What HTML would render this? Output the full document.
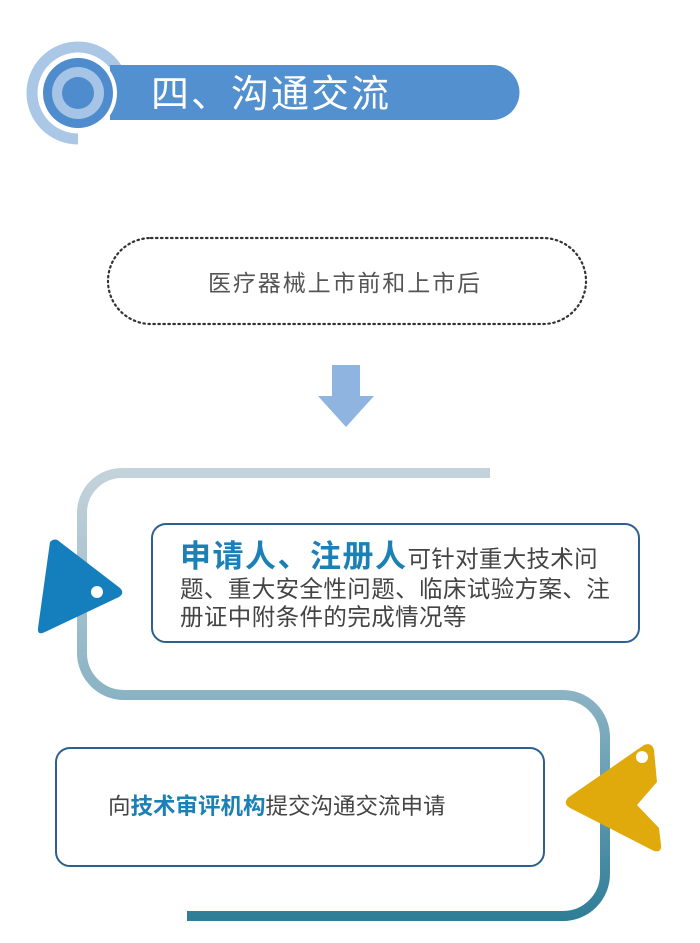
<!DOCTYPE html>
<html><head><meta charset="utf-8"><style>
html,body{margin:0;padding:0;background:#fff;}
body{width:700px;height:943px;overflow:hidden;position:relative;}
svg{position:absolute;left:0;top:0;}
text{font-family:"Liberation Sans","Noto Sans CJK SC",sans-serif;}
</style></head><body>
<svg width="700" height="943" viewBox="0 0 700 943">
<defs>
<linearGradient id="g" x1="0" y1="470" x2="0" y2="920" gradientUnits="userSpaceOnUse">
<stop offset="0" stop-color="#c4d3db"/>
<stop offset="0.5" stop-color="#8ab3c4"/>
<stop offset="1" stop-color="#2f7d97"/>
</linearGradient>
</defs>
<!-- header -->
<path d="M78 139 A46 46 0 1 1 124 93" fill="none" stroke="#aac7e6" stroke-width="11"/>
<path d="M110 65 H492 A27.5 27.5 0 0 1 492 120 H110 Z" fill="#5290d0"/>
<circle cx="78" cy="93" r="39" fill="#fff"/>
<circle cx="78" cy="93" r="35" fill="#4f8ccd"/>
<circle cx="78" cy="93" r="26" fill="#a6c4e6"/>
<circle cx="78" cy="93" r="16" fill="#4f8ccd"/>
<text x="151" y="107" font-size="38" fill="#fff" letter-spacing="2">四、沟通交流</text>
<!-- dotted box -->
<rect x="108" y="238" width="478" height="86" rx="43" fill="none" stroke="#333" stroke-width="2.2" stroke-dasharray="1.5 3.5" stroke-linecap="round"/>
<text x="208" y="291" font-size="23" fill="#555" letter-spacing="1.9">医疗器械上市前和上市后</text>
<!-- arrow -->
<path d="M332 365 H360 V396 H374 L346 427 L318 396 H332 Z" fill="#8fb4e0"/>
<!-- path -->
<path d="M490 473 H122 A40 40 0 0 0 82 513 V653 A42 42 0 0 0 124 695 H563 A42 42 0 0 1 605 737 V874 A42 42 0 0 1 563 916 H187" fill="none" stroke="url(#g)" stroke-width="10"/>
<!-- box 1 -->
<rect x="152" y="524" width="487" height="118" rx="14" fill="#fff" stroke="#2d5f90" stroke-width="2"/>
<text x="180" y="567" font-size="23.5" fill="#444" letter-spacing="0.3"><tspan font-size="31" font-weight="bold" fill="#1b80b6" letter-spacing="1.5">申请人、注册人</tspan>可针对重大技术问</text>
<text x="180" y="597" font-size="23.5" fill="#444" letter-spacing="0.4">题、重大安全性问题、临床试验方案、注</text>
<text x="180" y="625" font-size="23.5" fill="#444" letter-spacing="0.4">册证中附条件的完成情况等</text>
<!-- blue triangle -->
<path d="M50 542 Q55 537 60 542 L120 588 Q125 593 119 597 L45 632 Q37 636 38 628 Z" fill="#157fbd"/>
<circle cx="97" cy="592" r="6" fill="#fff"/>
<!-- box 2 -->
<rect x="56" y="748" width="488" height="118" rx="14" fill="#fff" stroke="#2d5f90" stroke-width="2"/>
<text x="108" y="814" font-size="22.5" fill="#444">向<tspan fill="#1b80b6" font-weight="bold">技术审评机构</tspan>提交沟通交流申请</text>
<!-- yellow shape -->
<path d="M644 745 Q652 742 654 750 L657 782 L637 805 L659 828 L661 845 Q662 853 654 851 L570 808 Q562 803 569 797 Z" fill="#e1aa0c"/>
<circle cx="642" cy="757" r="6" fill="#fff"/>
</svg>
</body></html>
